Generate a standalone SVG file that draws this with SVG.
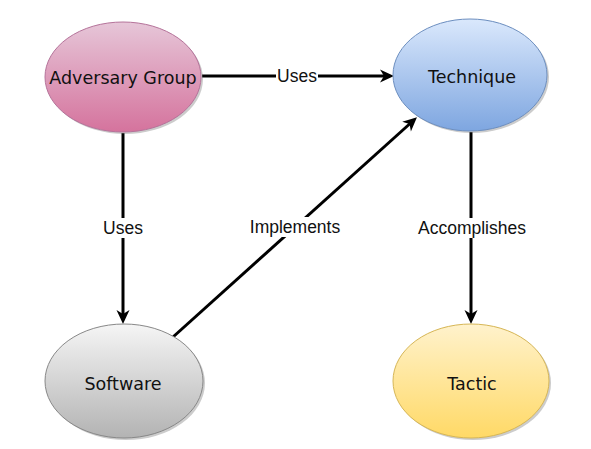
<svg xmlns="http://www.w3.org/2000/svg" width="591" height="449" viewBox="0 0 591 449">
<defs>
<linearGradient id="gPink" x1="0" y1="0" x2="0" y2="1"><stop offset="0" stop-color="#e6c6d8"/><stop offset="1" stop-color="#d5739d"/></linearGradient>
<linearGradient id="gBlue" x1="0" y1="0" x2="0" y2="1"><stop offset="0" stop-color="#dae8fc"/><stop offset="1" stop-color="#7ea6e0"/></linearGradient>
<linearGradient id="gGray" x1="0" y1="0" x2="0" y2="1"><stop offset="0" stop-color="#f5f5f5"/><stop offset="1" stop-color="#b3b3b3"/></linearGradient>
<linearGradient id="gYellow" x1="0" y1="0" x2="0" y2="1"><stop offset="0" stop-color="#fff2cc"/><stop offset="1" stop-color="#ffd966"/></linearGradient>
<marker id="arr" viewBox="-12 -8 18 16" refX="0" refY="0" markerWidth="18" markerHeight="16" markerUnits="userSpaceOnUse" orient="auto">
<path d="M4,0 L-10,-6.5 L-6,0 L-10,6.5 Z" fill="#000"/>
</marker>
</defs>
<style>
.shadow{fill:#808080;opacity:0.4}
.node{stroke-width:1}
.nlabel{font-family:"DejaVu Sans",Verdana,sans-serif;font-size:17.5px;fill:#111;text-anchor:middle}
.edge{stroke:#000;stroke-width:3;fill:none;marker-end:url(#arr)}
.elabel{font-family:"Liberation Sans",Arial,Helvetica,sans-serif;font-size:17.5px;fill:#111;text-anchor:middle}
.lbg{fill:#fff}
</style>
<rect width="591" height="449" fill="#fff"/>
<g id="connectors">
<path class="edge" d="M202,76 L390,76"/>
<path class="edge" d="M123,133 L123,320"/>
<path class="edge" d="M471,132 L471,320"/>
<path class="edge" d="M173,337 L414,120"/>
<rect class="lbg" x="276" y="66" width="42" height="20"/>
<text class="elabel" x="297" y="82">Uses</text>
<rect class="lbg" x="102" y="218" width="42" height="20"/>
<text class="elabel" x="123" y="234">Uses</text>
<rect class="lbg" x="247" y="217" width="96" height="20"/>
<text class="elabel" x="295" y="233">Implements</text>
<rect class="lbg" x="415" y="218" width="114" height="20"/>
<text class="elabel" x="472" y="234">Accomplishes</text>
</g>
<g id="adversary-group">
<ellipse class="shadow" cx="125" cy="79" rx="78" ry="55"/>
<ellipse class="node" cx="123" cy="77" rx="78" ry="55" fill="url(#gPink)" stroke="#b5739a"/>
<text class="nlabel" x="123" y="84">Adversary Group</text>
</g>
<g id="technique">
<ellipse class="shadow" cx="472" cy="77" rx="77" ry="56"/>
<ellipse class="node" cx="470" cy="75" rx="77" ry="56" fill="url(#gBlue)" stroke="#6c8ebf"/>
<text class="nlabel" x="472" y="83">Technique</text>
</g>
<g id="software">
<ellipse class="shadow" cx="126" cy="383" rx="79" ry="57"/>
<ellipse class="node" cx="124" cy="381" rx="79" ry="57" fill="url(#gGray)" stroke="#888"/>
<text class="nlabel" x="123" y="390">Software</text>
</g>
<g id="tactic">
<ellipse class="shadow" cx="473" cy="383" rx="78" ry="57"/>
<ellipse class="node" cx="471" cy="381" rx="78" ry="57" fill="url(#gYellow)" stroke="#d6b656"/>
<text class="nlabel" x="472" y="390">Tactic</text>
</g>
</svg>
